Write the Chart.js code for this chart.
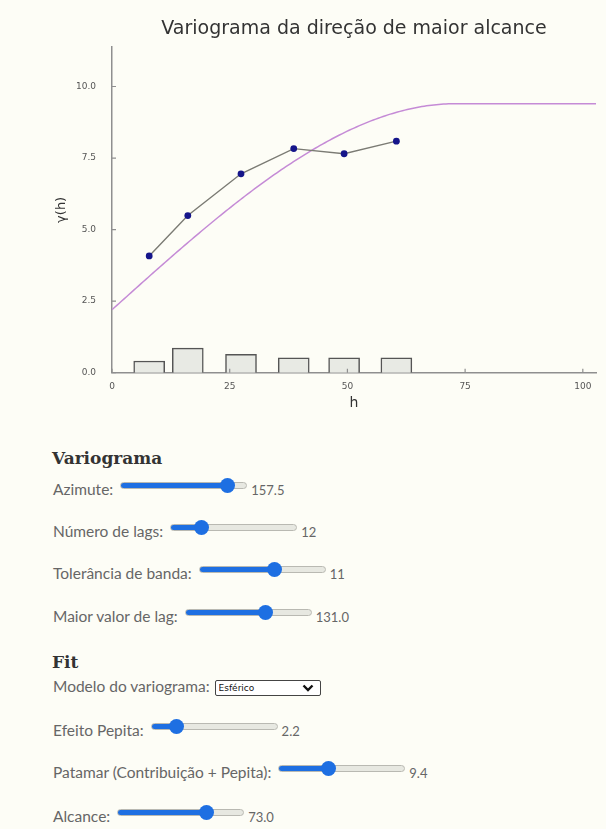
<!DOCTYPE html>
<html>
<head>
<meta charset="utf-8">
<script src="https://cdn.jsdelivr.net/npm/chart.js@4.4.1/dist/chart.umd.min.js"></script>
<style>
  html, body { margin: 0; padding: 0; background: #fdfdf6; }
  body { width: 606px; height: 829px; position: relative; overflow: hidden;
         font-family: Lato, "Open Sans", sans-serif; color: #666; }
  #plot { position: absolute; left: 0; top: 0; width: 606px; height: 420px; }
  .h { position: absolute; left: 52px; font-family: "DejaVu Serif", serif; font-weight: bold;
       font-size: 17px; color: #333; line-height: 20px; }
  .row { position: absolute; left: 53px; height: 20px; display: flex; align-items: center;
         font-size: 15.5px; white-space: nowrap; line-height: 20px; }
  .row input[type=range] {
    -webkit-appearance: none; appearance: none; width: 127px; height: 7px; margin: 0 0 0 7px;
    border-radius: 4px; border: 1px solid #b9b9b2; box-sizing: border-box;
    background: linear-gradient(to right, #1e6fe2 0, #1e6fe2 var(--p), #e7e8e1 var(--p), #e7e8e1 100%);
    position: relative; top: -4px; outline: none;
  }
  .row input[type=range]::-webkit-slider-thumb {
    -webkit-appearance: none; appearance: none; width: 15px; height: 15px; border-radius: 50%;
    background: #1e6fe2; border: none;
  }
  .val { font-size: 13px; margin-left: 4px; position: relative; top: 1px; color: #666; }
  select {
    -webkit-appearance: none; appearance: none; margin-left: 5px; width: 106px; height: 16px;
    font-family: "DejaVu Sans", sans-serif; font-size: 9px; color: #111; padding: 0 0 0 3px;
    border: 1px solid #444; border-radius: 2px; box-sizing: border-box; position: relative; top: 2px;
    background: #fff url("data:image/svg+xml;utf8,<svg xmlns='http://www.w3.org/2000/svg' width='12' height='8'><path d='M1.5 1.5 L6 6 L10.5 1.5' fill='none' stroke='%23111' stroke-width='2.4'/></svg>") no-repeat right 6px center;
  }
</style>
</head>
<body>
<div id="plot"><canvas id="chart"></canvas></div>

<div class="h" style="top:448px">Variograma</div>
<div class="row" style="top:479px"><span>Azimute:</span><input type="range" min="0" max="175" step="0.5" value="157.5"><span class="val">157.5</span></div>
<div class="row" style="top:521px"><span>Número de lags:</span><input type="range" min="1" max="55" step="1" value="12"><span class="val">12</span></div>
<div class="row" style="top:563px"><span>Tolerância de banda:</span><input type="range" min="0" max="18" step="1" value="11"><span class="val">11</span></div>
<div class="row" style="top:606px"><span>Maior valor de lag:</span><input type="range" min="0" max="200" step="0.5" value="131"><span class="val">131.0</span></div>

<div class="h" style="top:652px">Fit</div>
<div class="row" style="top:676px"><span>Modelo do variograma:</span><select><option>Esférico</option><option>Exponencial</option><option>Gaussiano</option></select></div>
<div class="row" style="top:720px"><span>Efeito Pepita:</span><input type="range" min="0" max="14" step="0.1" value="2.2"><span class="val">2.2</span></div>
<div class="row" style="top:762px"><span>Patamar (Contribuição + Pepita):</span><input type="range" min="0" max="25" step="0.1" value="9.4"><span class="val">9.4</span></div>
<div class="row" style="top:806px"><span>Alcance:</span><input type="range" min="0" max="100" step="0.5" value="73"><span class="val">73.0</span></div>

<script>
// Experimental variogram: lag distance h and semivariance γ(h)
const lagH = [7.9, 16.1, 27.4, 38.6, 49.3, 60.4];
const lagGamma = [4.08, 5.49, 6.95, 7.83, 7.65, 8.09];
// Relative number of pairs per lag, drawn as bars on the γ axis
const pairBars = [0.41, 0.86, 0.64, 0.52, 0.52, 0.52];

// Fitted spherical model parameters (same as the Fit controls)
const nugget = 2.2;
const sill = 9.4;
const rangeA = 73.0;

// Axis extents and tick values
const hMax = 102.8;
const gammaMax = 11.38;
const xTicks = [0, 25, 50, 75, 100];
const yTicks = [0, 2.5, 5, 7.5, 10];

// Spherical variogram model evaluated along the h axis
function spherical(h) {
  if (h >= rangeA) return sill;
  const r = h / rangeA;
  return nugget + (sill - nugget) * (1.5 * r - 0.5 * r * r * r);
}
const modelPoints = [];
for (let i = 0; i <= 200; i++) {
  const h = hMax * i / 200;
  modelPoints.push({ x: h, y: spherical(h) });
}

const expPoints = lagH.map((h, i) => ({ x: h, y: lagGamma[i] }));
const barPoints = lagH.map((h, i) => ({ x: h, y: pairBars[i] }));

// Slider fill up to the thumb centre
document.querySelectorAll('input[type=range]').forEach(el => {
  const min = +el.min, max = +el.max, v = +el.value;
  const f = (v - min) / (max - min);
  const w = el.offsetWidth, t = 15;
  el.style.setProperty('--p', (t / 2 + f * (w - t)) + 'px');
});

// Small tick marks pointing into the plot area
const innerTicks = {
  id: 'innerTicks',
  afterDatasetsDraw(chart) {
    const { ctx, chartArea: a, scales: { x, y } } = chart;
    ctx.save();
    ctx.strokeStyle = '#8f8f8f';
    ctx.lineWidth = 1.2;
    ctx.beginPath();
    x.ticks.forEach(t => {
      const px = x.getPixelForValue(t.value);
      ctx.moveTo(px, a.bottom);
      ctx.lineTo(px, a.bottom - 4);
    });
    y.ticks.forEach(t => {
      const py = y.getPixelForValue(t.value);
      ctx.moveTo(a.left, py);
      ctx.lineTo(a.left + 4, py);
    });
    ctx.stroke();
    ctx.restore();
  }
};

const tickFont = { family: 'DejaVu Sans', size: 9 };

new Chart(document.getElementById('chart'), {
  type: 'line',
  data: {
    datasets: [
      {
        type: 'line', data: expPoints, order: 1,
        borderColor: '#7b7b74', borderWidth: 1.4,
        pointRadius: 3.4, pointBackgroundColor: '#15158a', pointBorderColor: '#15158a',
        pointBorderWidth: 0, tension: 0
      },
      {
        type: 'line', data: modelPoints, order: 2,
        borderColor: '#c58bd6', borderWidth: 1.5, pointRadius: 0, tension: 0
      },
      {
        type: 'bar', data: barPoints, order: 3,
        backgroundColor: '#e8eae4', borderColor: '#555', borderWidth: 1.5,
        barThickness: 31
      }
    ]
  },
  options: {
    responsive: true,
    maintainAspectRatio: false,
    animation: false,
    layout: { padding: { left: 0, right: 10, top: 0, bottom: 0 } },
    plugins: {
      legend: { display: false },
      tooltip: { enabled: false },
      title: {
        display: true, fullSize: false,
        text: 'Variograma da direção de maior alcance',
        color: '#333',
        font: { family: 'DejaVu Sans', size: 19, weight: 'normal' },
        padding: { top: 18, bottom: 6.2 }
      }
    },
    scales: {
      x: {
        type: 'linear', min: 0, max: hMax, offset: false,
        grid: { display: false },
        border: { display: true, color: '#8f8f8f', width: 1.5 },
        afterBuildTicks: s => { s.ticks = xTicks.map(v => ({ value: v })); },
        ticks: { padding: 1, color: '#555', font: tickFont, maxRotation: 0,
                 callback: v => String(v) },
        title: { display: true, text: 'h', color: '#333',
                 font: { family: 'DejaVu Sans', size: 14 }, padding: { top: 0, bottom: 8 } },
        afterFit: s => { s.height = 47.3; }
      },
      y: {
        type: 'linear', min: 0, max: gammaMax,
        grid: { display: false },
        border: { display: true, color: '#8f8f8f', width: 1.5 },
        afterBuildTicks: s => { s.ticks = yTicks.map(v => ({ value: v })); },
        ticks: { padding: 8, color: '#555', font: tickFont,
                 callback: v => Number(v).toFixed(1) },
        title: { display: true, text: 'γ(h)', color: '#333',
                 font: { family: 'DejaVu Sans', size: 13 }, padding: { top: 54, bottom: 0 } },
        afterFit: s => { s.width = 112; }
      }
    }
  },
  plugins: [innerTicks]
});
</script>
</body>
</html>
